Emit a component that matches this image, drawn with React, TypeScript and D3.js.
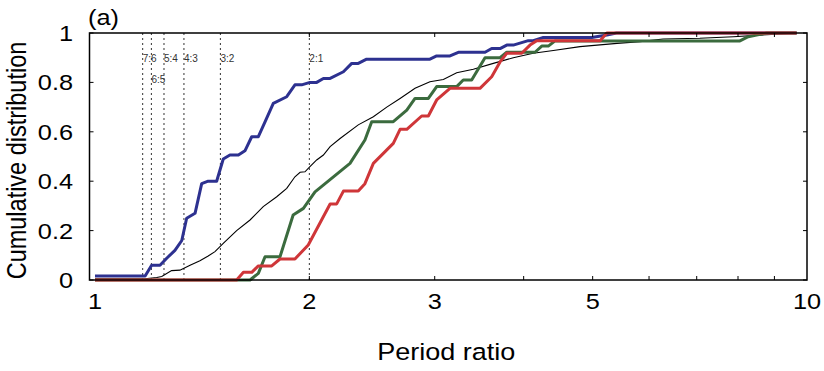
import { useEffect, useRef } from 'react';
import * as d3 from 'd3';

// cumulative distributions: [period ratio, fraction]
const blueCdf: [number, number][] = [
  [1.0, 0.016], [1.176, 0.016], [1.201, 0.06], [1.234, 0.06], [1.261, 0.088], [1.295, 0.12],
  [1.324, 0.16], [1.345, 0.25], [1.382, 0.27], [1.412, 0.39], [1.442, 0.40], [1.482, 0.40],
  [1.514, 0.49], [1.547, 0.506], [1.59, 0.506], [1.624, 0.523], [1.66, 0.58], [1.696, 0.58],
  [1.733, 0.64], [1.78, 0.715], [1.859, 0.742], [1.909, 0.79], [1.951, 0.79], [2.004, 0.80],
  [2.048, 0.80], [2.093, 0.816], [2.139, 0.816], [2.233, 0.843], [2.294, 0.877], [2.343, 0.877],
  [2.407, 0.894], [2.954, 0.894], [3.019, 0.907], [3.152, 0.907], [3.238, 0.922], [3.53, 0.922],
  [3.607, 0.937], [3.706, 0.937], [3.787, 0.951], [3.868, 0.951], [4.06, 0.969], [4.126, 0.969],
  [4.263, 0.982], [4.986, 0.982], [5.234, 0.992], [5.4, 1.0], [9.67, 1.0],
];

const blackCdf: [number, number][] = [
  [1.0, 0.005], [1.176, 0.005], [1.221, 0.01], [1.241, 0.014], [1.281, 0.038], [1.316, 0.04],
  [1.36, 0.06], [1.404, 0.078], [1.442, 0.097], [1.474, 0.115], [1.514, 0.148], [1.581, 0.2],
  [1.651, 0.243], [1.723, 0.297], [1.8, 0.337], [1.859, 0.371], [1.909, 0.418], [1.941, 0.436],
  [1.972, 0.438], [2.004, 0.459], [2.048, 0.486], [2.093, 0.506], [2.139, 0.54], [2.209, 0.573],
  [2.343, 0.628], [2.46, 0.661], [2.569, 0.7], [2.682, 0.735], [2.815, 0.776], [2.954, 0.803],
  [3.085, 0.812], [3.221, 0.839], [3.399, 0.853], [3.626, 0.877], [3.868, 0.9], [4.126, 0.918],
  [4.403, 0.929], [4.8, 0.945], [5.41, 0.958], [5.83, 0.965], [6.28, 0.976], [7.07, 0.979],
  [7.88, 0.985], [8.78, 0.993], [9.67, 1.0],
];

const greenCdf: [number, number][] = [
  [1.0, 0], [1.651, 0], [1.696, 0.027], [1.733, 0.094], [1.819, 0.094], [1.898, 0.263],
  [1.962, 0.29], [2.037, 0.357], [2.281, 0.472], [2.394, 0.567], [2.447, 0.641], [2.624, 0.641],
  [2.741, 0.688], [2.815, 0.735], [2.939, 0.735], [3.019, 0.783], [3.221, 0.783], [3.29, 0.81],
  [3.381, 0.81], [3.53, 0.9], [3.706, 0.9], [3.787, 0.922], [4.15, 0.922], [4.241, 0.947],
  [4.332, 0.947], [4.427, 0.968], [8.05, 0.968], [8.27, 0.985], [8.78, 1.0], [9.67, 1.0],
];

const redCdf: [number, number][] = [
  [1.0, 0], [1.581, 0], [1.616, 0.031], [1.66, 0.031], [1.696, 0.057], [1.771, 0.057],
  [1.819, 0.085], [1.909, 0.085], [1.993, 0.142], [2.139, 0.308], [2.185, 0.308], [2.233, 0.36],
  [2.343, 0.36], [2.394, 0.39], [2.46, 0.472], [2.624, 0.553], [2.682, 0.61], [2.741, 0.61],
  [2.876, 0.664], [2.939, 0.664], [3.019, 0.729], [3.152, 0.776], [3.473, 0.776], [3.607, 0.823],
  [3.706, 0.883], [3.787, 0.918], [3.975, 0.918], [4.083, 0.951], [4.173, 0.969], [5.122, 0.969],
  [5.234, 1.0], [9.67, 1.0],
];

const resonanceLabels = ['7:6', '6:5', '5:4', '4:3', '3:2', '2:1'];
const resonanceValues = [1.1667, 1.2, 1.25, 1.3333, 1.5, 2];
const resonanceRow = [0, 1, 0, 0, 0, 0];

const xTickValues = [1, 2, 3, 5, 10];
const xMinorTicks = [2, 3, 4, 5, 6, 7, 8, 9];
const yTickValues = [0, 0.2, 0.4, 0.6, 0.8, 1];
const yTickLabels = ['0', '0.2', '0.4', '0.6', '0.8', '1'];

const FONT = '"Liberation Sans", Arial, Helvetica, sans-serif';
const STRETCH = 1.15; // the original figure is a little wider than tall

const PeriodRatioCdf = ({ width = 824, height = 371 }) => {
  const svgRef = useRef(null);

  useEffect(() => {
    const svg = d3.select(svgRef.current);
    svg.selectAll('*').remove();

    const frame = { left: 89.5, right: 807, top: 33, bottom: 280 };

    const xScale = d3.scaleLog().domain([1, 10]).range([95, 807]);
    const yScale = d3.scaleLinear().domain([0, 1]).range([frame.bottom, frame.top]);

    const g = svg.append('g');

    const label = (x: number, y: number, txt: string, size: number, anchor = 'start') =>
      g.append('text')
        .attr('transform', `translate(${x},${y}) scale(${STRETCH},1)`)
        .attr('text-anchor', anchor)
        .style('font-family', FONT)
        .style('font-size', `${size}px`)
        .style('fill', '#000')
        .text(txt);

    // resonance markers
    resonanceValues.forEach((v, i) => {
      const px = xScale(v);
      g.append('line')
        .attr('x1', px).attr('x2', px)
        .attr('y1', frame.top).attr('y2', frame.bottom)
        .attr('stroke', '#333')
        .attr('stroke-width', 1)
        .attr('stroke-dasharray', '2,3');
      g.append('text')
        .attr('x', px)
        .attr('y', resonanceRow[i] ? 83 : 62)
        .style('font-family', FONT)
        .style('font-size', '10px')
        .style('fill', '#333')
        .text(resonanceLabels[i]);
    });

    const line = d3.line<[number, number]>()
      .x(d => xScale(d[0]))
      .y(d => yScale(d[1]));

    g.append('path').datum(blackCdf)
      .attr('d', line).attr('fill', 'none')
      .attr('stroke', '#000').attr('stroke-width', 1.1);

    const thick = [
      { data: blueCdf, color: '#2d3190' },
      { data: greenCdf, color: '#3b6b3e' },
      { data: redCdf, color: '#cf3639' },
    ];
    thick.forEach(s => {
      g.append('path').datum(s.data)
        .attr('d', line).attr('fill', 'none')
        .attr('stroke', s.color).attr('stroke-width', 3)
        .attr('stroke-linejoin', 'round');
    });

    // frame
    g.append('rect')
      .attr('x', frame.left).attr('y', frame.top)
      .attr('width', frame.right - frame.left)
      .attr('height', frame.bottom - frame.top)
      .attr('fill', 'none')
      .attr('stroke', '#000')
      .attr('stroke-width', 1.5);

    // minor ticks on top and bottom
    xMinorTicks.forEach(v => {
      const px = xScale(v);
      g.append('line').attr('x1', px).attr('x2', px)
        .attr('y1', frame.bottom).attr('y2', frame.bottom - 4)
        .attr('stroke', '#000').attr('stroke-width', 1);
      g.append('line').attr('x1', px).attr('x2', px)
        .attr('y1', frame.top).attr('y2', frame.top + 4)
        .attr('stroke', '#000').attr('stroke-width', 1);
    });

    // y ticks on both sides
    yTickValues.forEach((v, i) => {
      const py = yScale(v);
      g.append('line').attr('x1', frame.left).attr('x2', frame.left + 4)
        .attr('y1', py).attr('y2', py)
        .attr('stroke', '#000').attr('stroke-width', 1);
      g.append('line').attr('x1', frame.right).attr('x2', frame.right - 4)
        .attr('y1', py).attr('y2', py)
        .attr('stroke', '#000').attr('stroke-width', 1);
      label(73, py + 8, yTickLabels[i], 22, 'end');
    });

    xTickValues.forEach(v => {
      label(xScale(v), 309, String(v), 22, 'middle');
    });

    label((frame.left + frame.right) / 2 - 2, 360, 'Period ratio', 23.5, 'middle');

    g.append('text')
      .attr('transform', `translate(25.5,${(frame.top + frame.bottom) / 2 + 4}) scale(${STRETCH},1) rotate(-90)`)
      .attr('text-anchor', 'middle')
      .style('font-family', FONT)
      .style('font-size', '23.5px')
      .style('fill', '#000')
      .text('Cumulative distribution');

    label(88, 25, '(a)', 22);
  }, [width, height]);

  return (
    <svg
      ref={svgRef}
      width={width}
      height={height}
      style={{ position: 'absolute', left: 0, top: 0, background: '#fff' }}
    />
  );
};

export default function App() {
  return <PeriodRatioCdf />;
}
